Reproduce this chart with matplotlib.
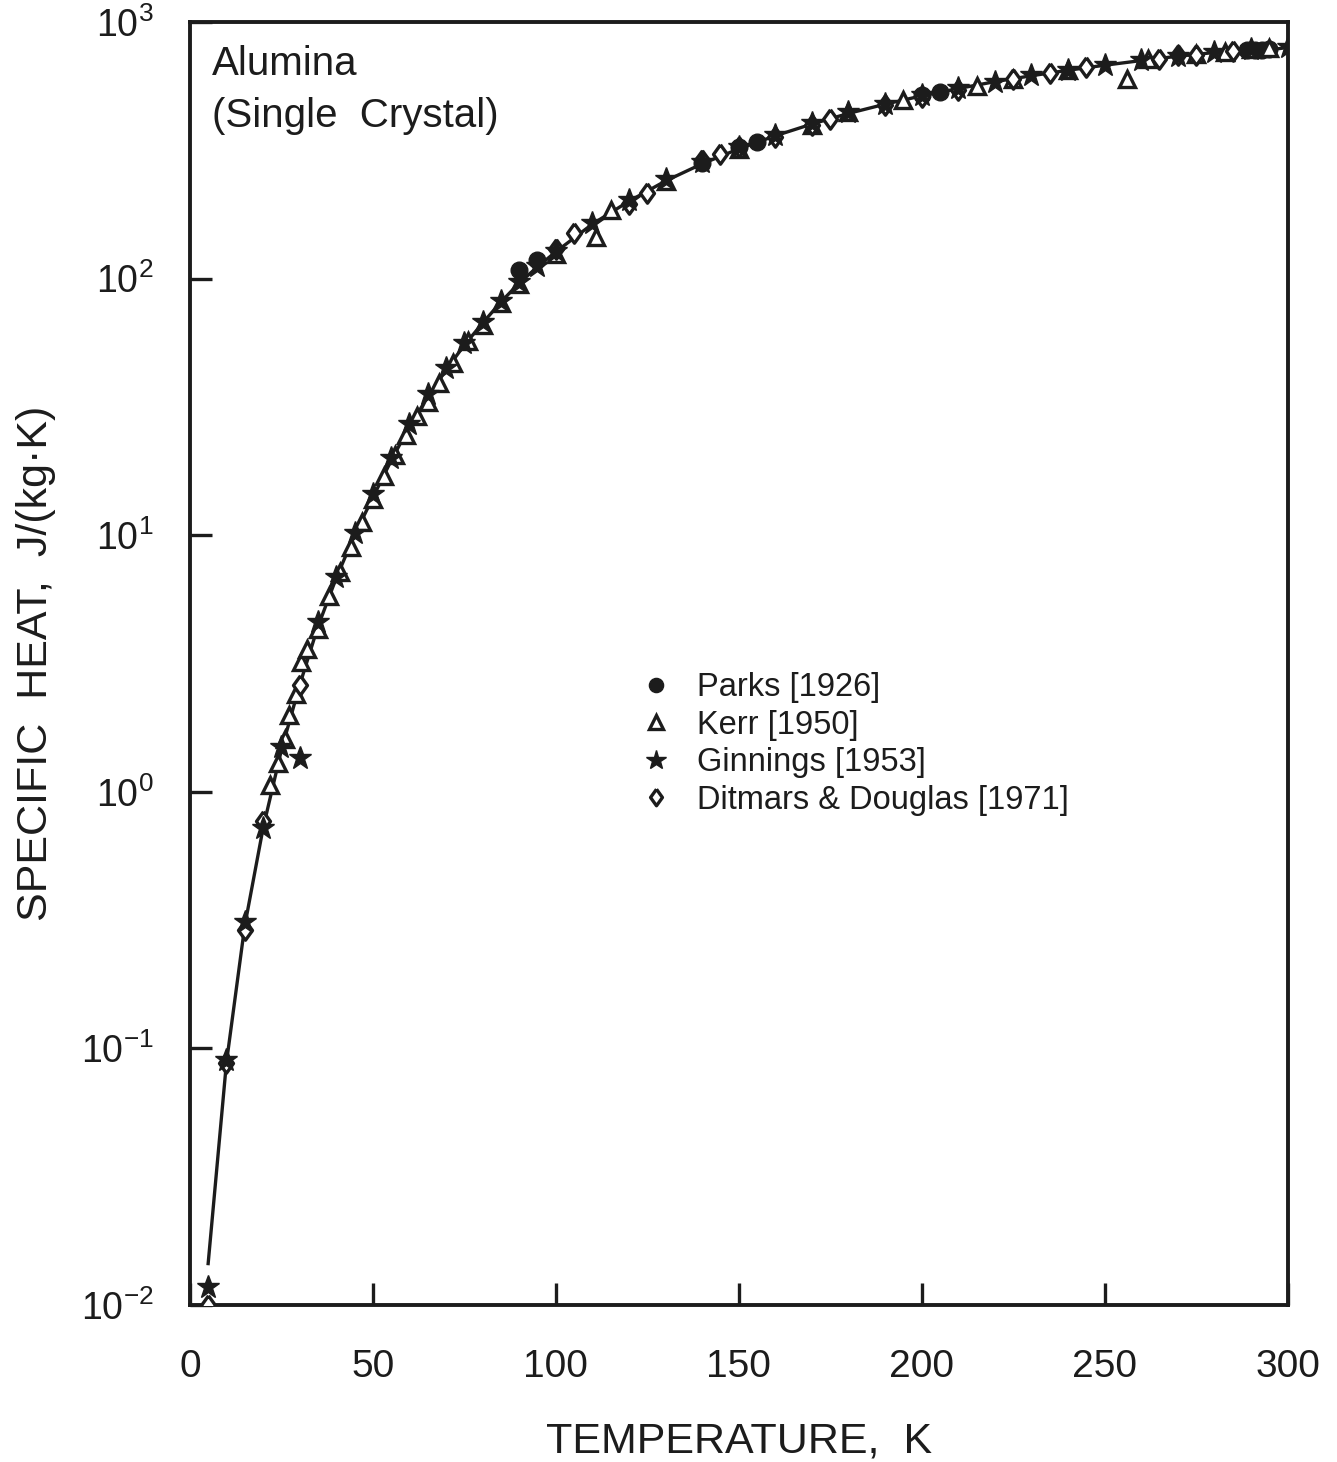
import numpy as np
import matplotlib
matplotlib.use("Agg")
import matplotlib.pyplot as plt
from matplotlib.ticker import FixedLocator, NullLocator

plt.rcParams['font.family'] = ['Liberation Sans', 'DejaVu Sans']
plt.rcParams['mathtext.fontset'] = 'custom'
plt.rcParams['mathtext.rm'] = 'Liberation Sans'
plt.rcParams['mathtext.it'] = 'Liberation Sans'

INK = '#1c1c1c'

# fitted curve
T_fit = [5, 10, 15, 20, 25, 30, 35, 40, 45, 50, 55, 60, 65, 70, 75, 80, 85, 90, 95,
         100, 110, 120, 130, 140, 150, 160, 170, 180, 190, 200, 210, 220, 230, 240,
         250, 260, 270, 280, 285, 290, 295, 300]
C_fit = [0.0145, 0.088, 0.30, 0.72, 1.45, 2.6, 4.4, 6.8, 10, 14, 19.5, 26.5, 34.5, 44,
         55, 67, 81, 96, 111, 127, 163, 200, 240, 280, 320, 360, 400, 440, 478, 515,
         550, 585, 617, 648, 678, 707, 735, 760, 768, 770, 778, 795]

# Parks [1926]
T_parks = [90, 95, 140, 150, 155, 200, 205, 289, 291, 293, 295]
C_parks = [108, 118, 282, 325, 340, 518, 535, 775, 778, 780, 782]

# Kerr [1950]
T_kerr = [22, 24, 26, 27, 29, 30.5, 32, 35, 38, 41, 44, 47, 50, 53, 56, 59, 62, 65, 68,
          72, 76, 80, 85, 90, 100, 111, 115, 130, 150, 170, 180, 195, 215, 225, 240,
          256, 262, 275, 283, 290, 295]
C_kerr = [1.06, 1.3, 1.6, 2.0, 2.4, 3.2, 3.6, 4.3, 5.8, 7.2, 9, 11.3, 13.8, 17, 20.5,
          24.5, 29, 33, 39, 47, 57, 66, 80, 95, 125, 145, 185, 240, 320, 398, 445, 495,
          565, 600, 650, 598, 715, 750, 765, 785, 790]

# Ginnings [1953]
T_ginn = [5, 10, 15, 20, 25, 30, 35, 40, 45, 50, 55, 60, 65, 70, 75, 80, 85, 90, 95,
          100, 110, 120, 130, 140, 150, 160, 170, 180, 190, 200, 210, 220, 230, 240,
          250, 260, 270, 280, 290, 300]
C_ginn = [0.0117, 0.09, 0.31, 0.72, 1.5, 1.35, 4.6, 6.9, 10.2, 14.5, 20, 27, 35.5, 45,
          56, 68, 82, 97, 112, 128, 165, 203, 245, 284, 325, 362, 402, 445, 480, 520,
          552, 585, 620, 652, 680, 710, 738, 765, 782, 800]

# Ditmars & Douglas [1971]
T_ditm = [5, 10, 15, 20, 30, 100, 105, 120, 125, 140, 145, 150, 160, 170, 175, 190,
          200, 210, 225, 235, 245, 265, 270, 275, 285]
C_ditm = [0.0100, 0.088, 0.29, 0.77, 2.6, 130, 150, 195, 215, 290, 305, 325, 355, 395,
          420, 475, 510, 545, 600, 630, 665, 720, 740, 745, 770]

y_ticks = [1e-2, 1e-1, 1e0, 1e1, 1e2, 1e3]
y_labels = [r'$\mathregular{10^{-2}}$', r'$\mathregular{10^{-1}}$', r'$\mathregular{10^{0}}$',
            r'$\mathregular{10^{1}}$', r'$\mathregular{10^{2}}$', r'$\mathregular{10^{3}}$']
x_ticks = [0, 50, 100, 150, 200, 250, 300]

# diamond a bit wider than matplotlib's 'd'
diamond = [(0, 1), (0.72, 0), (0, -1), (-0.72, 0), (0, 1)]

fig = plt.figure(figsize=(13.37, 14.62), dpi=100)
ax = fig.add_axes([0.142, 0.1074, 0.821, 0.8776])

ax.plot(T_fit, C_fit, color=INK, lw=2.4, zorder=2)

ms = 12
ax.plot(T_parks, C_parks, 'o', color=INK, ms=ms, ls='none', label='Parks [1926]', zorder=3)
ax.plot(T_kerr, C_kerr, '^', mfc='white', mec=INK, mew=2.4, ms=ms, ls='none',
        label='Kerr [1950]', zorder=3)
ax.plot(T_ginn, C_ginn, '*', color=INK, ms=ms + 5, ls='none', label='Ginnings [1953]', zorder=4)
ax.plot(T_ditm, C_ditm, marker=diamond, mfc='white', mec=INK, mew=2.4, ms=ms + 2, ls='none',
        label='Ditmars & Douglas [1971]', zorder=3)

ax.set_yscale('log')
ax.set_xlim(0, 300)
ax.set_ylim(1e-2, 1e3)
ax.yaxis.set_major_locator(FixedLocator(y_ticks))
ax.yaxis.set_minor_locator(NullLocator())
ax.set_yticklabels(y_labels)
ax.set_xticks(x_ticks)

for s in ax.spines.values():
    s.set_linewidth(2.8)
    s.set_color(INK)
ax.tick_params(axis='both', direction='in', length=16, width=2.4, colors=INK,
               labelsize=28, top=False, right=False)
ax.tick_params(axis='y', labelsize=27, pad=26)
ax.tick_params(axis='x', pad=32)

ax.set_xlabel('TEMPERATURE,  K', fontsize=31, color=INK, labelpad=26)
ax.set_ylabel('SPECIFIC  HEAT,  J/(kg·K)', fontsize=31, color=INK, labelpad=18)

ax.text(0.02, 0.982, 'Alumina\n(Single  Crystal)', transform=ax.transAxes, fontsize=29,
        va='top', ha='left', color=INK, linespacing=1.45)

leg = ax.legend(loc='upper left', bbox_to_anchor=(0.383, 0.516), frameon=False, fontsize=23.5,
                handletextpad=0.75, labelspacing=0.2, handlelength=1.0, markerscale=0.85)
for t in leg.get_texts():
    t.set_color(INK)

fig.savefig('out.png', dpi=100, facecolor='white')
